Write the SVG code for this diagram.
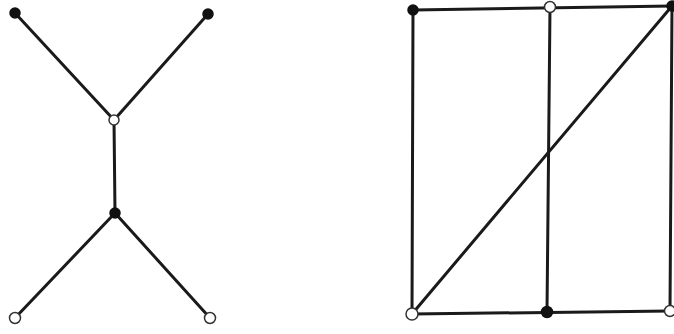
<svg xmlns="http://www.w3.org/2000/svg" width="674" height="334" viewBox="0 0 674 334">
<style>
.e{stroke:#1a1a1a;stroke-width:3;fill:none;stroke-linecap:round}
.b{fill:#111;stroke:#111;stroke-width:1.5}
.w{fill:#fff;stroke:#333;stroke-width:1.5}
</style>
<rect width="674" height="334" fill="#fff"/>
<g id="connectors">
<line class="e" x1="15" y1="13" x2="114" y2="120"/>
<line class="e" x1="208" y1="14" x2="114" y2="120"/>
<line class="e" x1="114" y1="120" x2="115" y2="213"/>
<line class="e" x1="115" y1="213" x2="15" y2="318"/>
<line class="e" x1="115" y1="213" x2="210" y2="318"/>
<line class="e" x1="413" y1="10" x2="412" y2="314"/>
<line class="e" x1="413" y1="10" x2="672" y2="6"/>
<line class="e" x1="550" y1="7" x2="547" y2="312"/>
<line class="e" x1="672" y1="6" x2="670" y2="311"/>
<line class="e" x1="412" y1="314" x2="670" y2="311"/>
<line class="e" x1="412" y1="314" x2="672" y2="6"/>
</g>
<g id="n1"><circle class="b" cx="15" cy="13" r="5"/></g>
<g id="n2"><circle class="b" cx="208" cy="14" r="5"/></g>
<g id="n3"><circle class="w" cx="114" cy="120" r="5"/></g>
<g id="n4"><circle class="b" cx="115" cy="213" r="5"/></g>
<g id="n5"><circle class="w" cx="15" cy="318" r="5.5"/></g>
<g id="n6"><circle class="w" cx="210" cy="318" r="5.5"/></g>
<g id="n7"><circle class="b" cx="413" cy="10" r="5"/></g>
<g id="n8"><circle class="w" cx="550" cy="7" r="5.5"/></g>
<g id="n9"><circle class="b" cx="672" cy="6" r="5"/></g>
<g id="n10"><circle class="w" cx="412" cy="314" r="6"/></g>
<g id="n11"><circle class="b" cx="547" cy="312" r="5.5"/></g>
<g id="n12"><circle class="w" cx="670" cy="311" r="5.5"/></g>
</svg>
